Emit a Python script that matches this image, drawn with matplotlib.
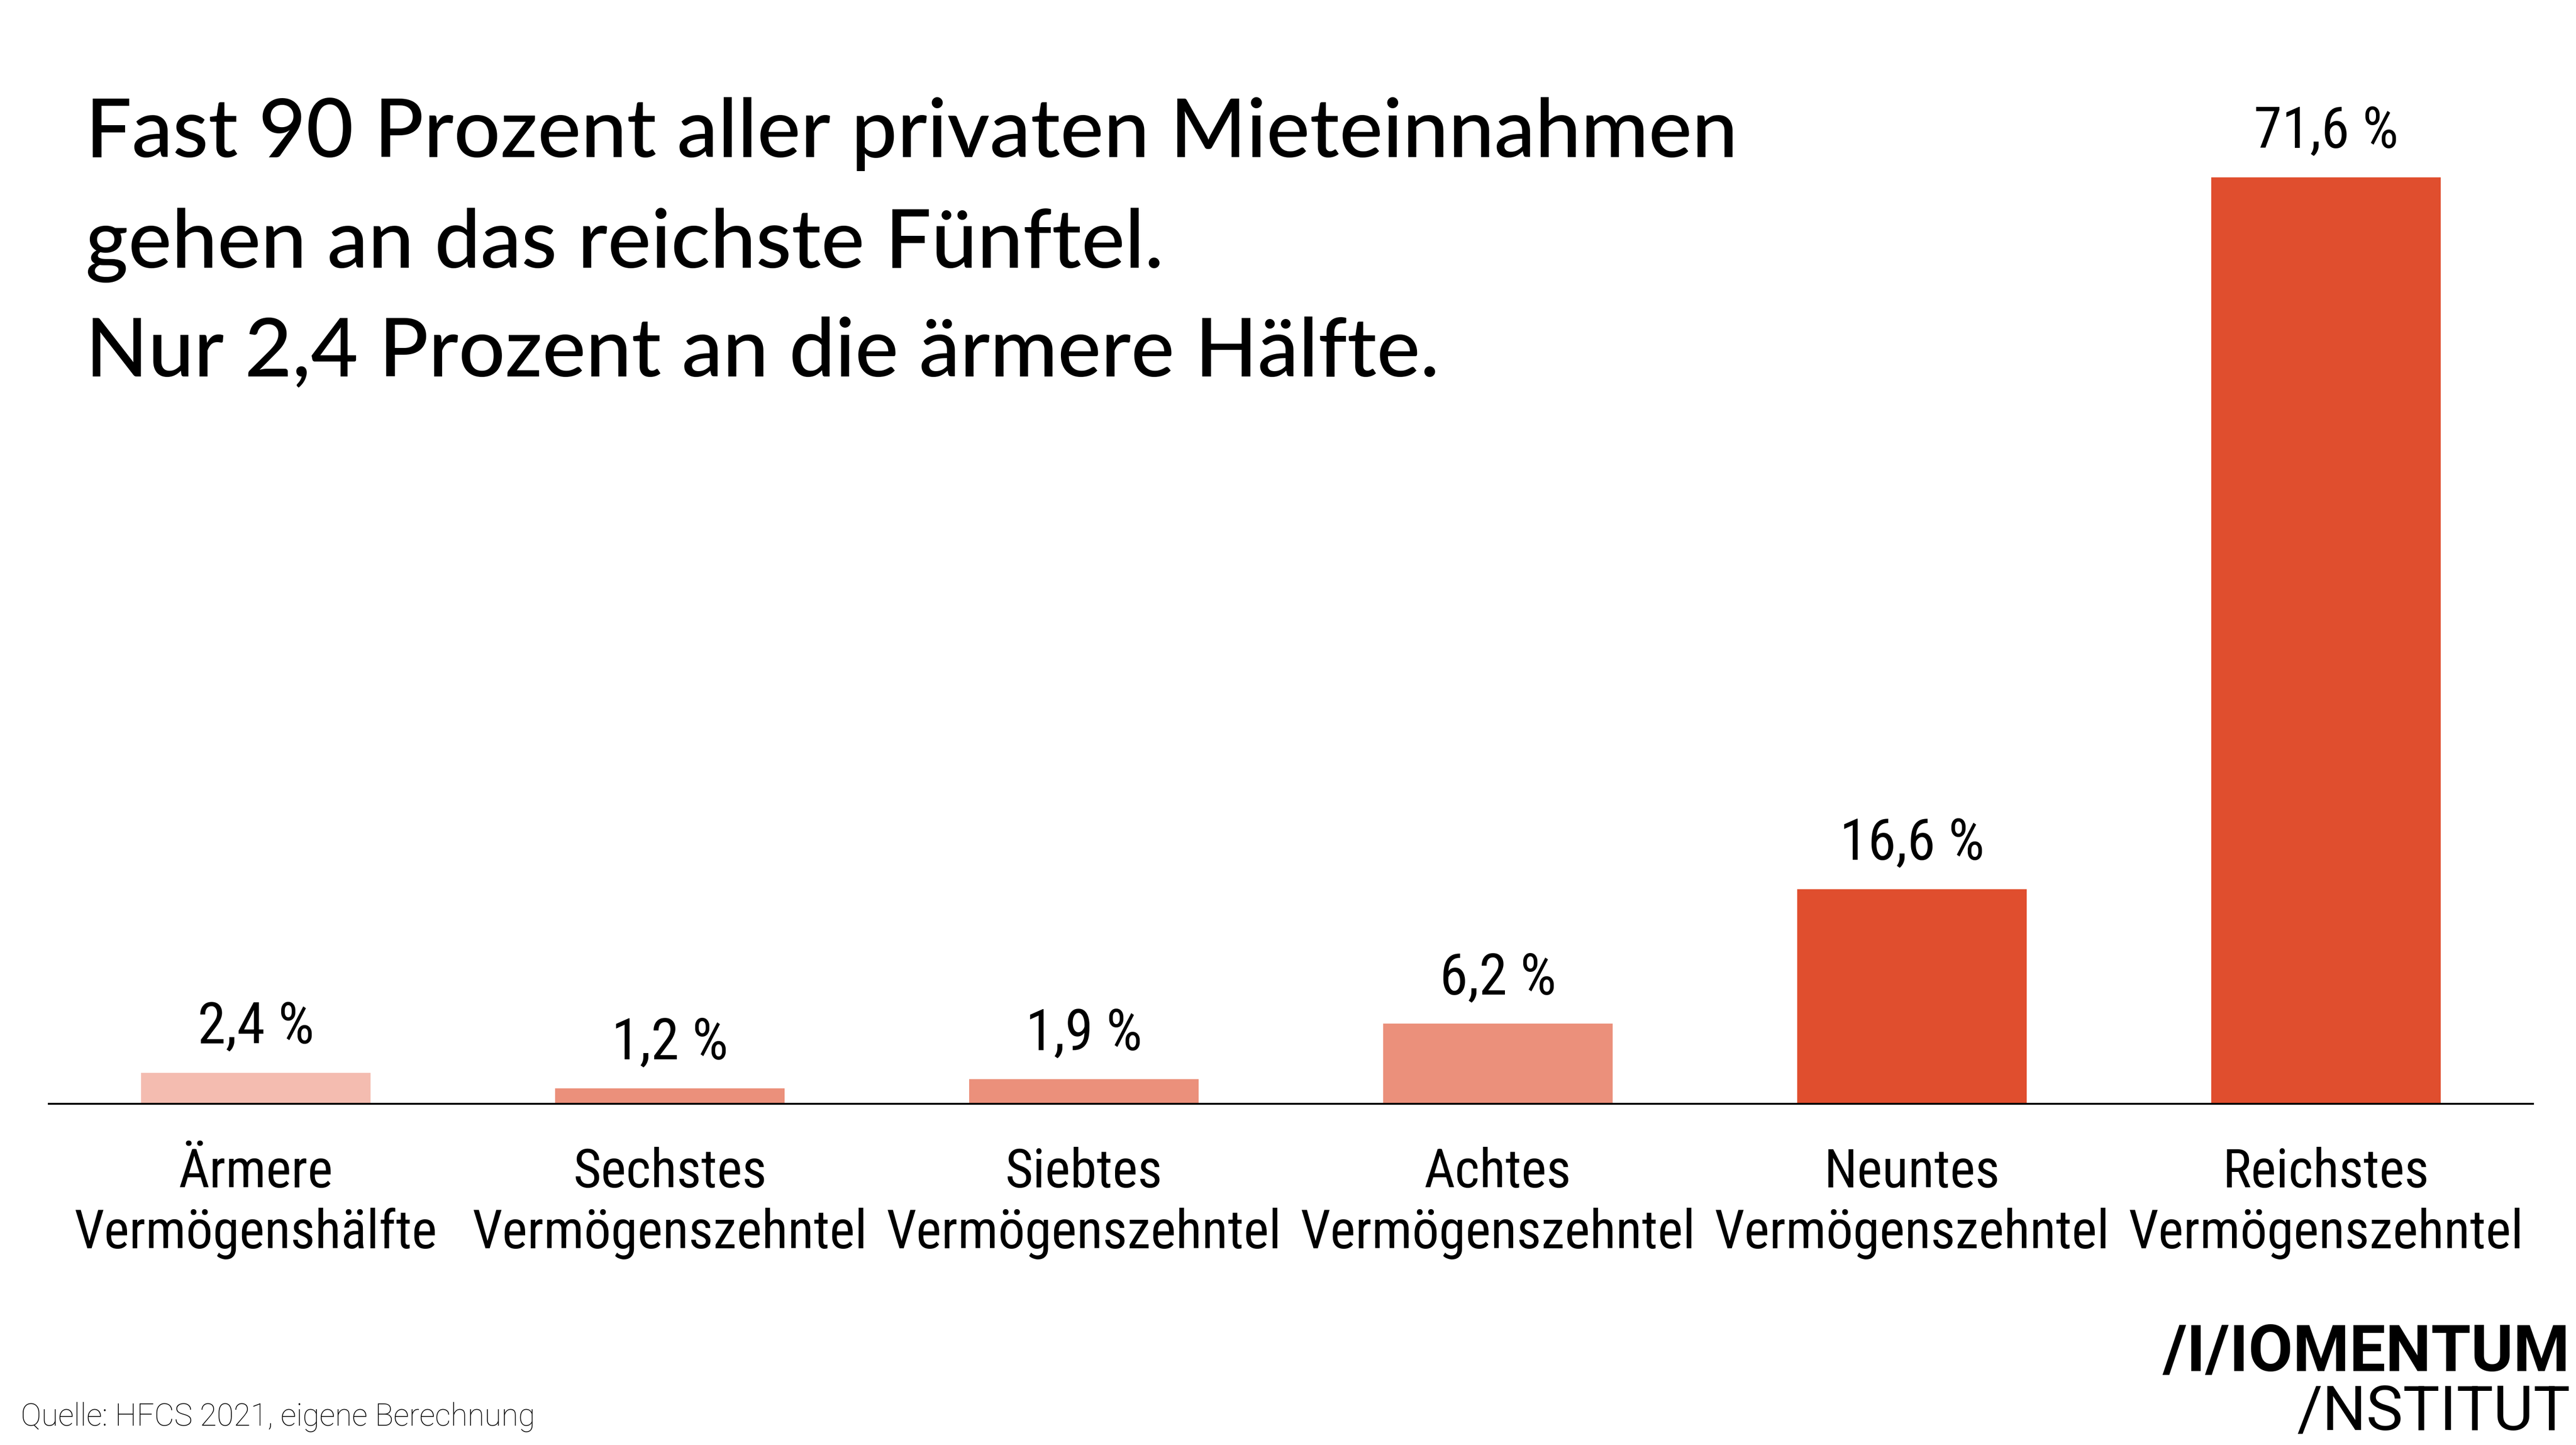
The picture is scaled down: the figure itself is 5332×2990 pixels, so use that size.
import matplotlib
matplotlib.use("Agg")
import matplotlib.pyplot as plt
from matplotlib import font_manager

names = {f.name for f in font_manager.fontManager.ttflist}
narrow = "Roboto"
label_size = 35
for cand in ["Roboto Condensed", "Liberation Sans Narrow", "Open Sans Condensed"]:
    if cand in names:
        narrow = cand
        label_size = 40
        break
main_font = "Lato"

categories_top = ["Ärmere", "Sechstes", "Siebtes", "Achtes", "Neuntes", "Reichstes"]
categories_bottom = ["Vermögenshälfte", "Vermögenszehntel", "Vermögenszehntel",
                     "Vermögenszehntel", "Vermögenszehntel", "Vermögenszehntel"]
shares = [2.4, 1.2, 1.9, 6.2, 16.6, 71.6]
bar_colors = ["#F4BCB0", "#EB907B", "#EB907B", "#EB907B", "#E04E2E", "#E04E2E"]

title_lines = ["Fast 90 Prozent aller privaten Mieteinnahmen",
               "gehen an das reichste Fünftel.",
               "Nur 2,4 Prozent an die ärmere Hälfte."]
source = "Quelle: HFCS 2021, eigene Berechnung"

fig = plt.figure(figsize=(26.66, 14.95), dpi=200)
ax = fig.add_axes([0.0189, 0.2361, 0.9644, 0.7639])

x = range(len(shares))
ax.bar(x, shares, width=0.554, color=bar_colors)
ax.set_xlim(-0.5, 5.5)
ax.set_ylim(0, 85.3)

for i, v in enumerate(shares):
    lab = f"{v:.1f}".replace(".", ",") + " %"
    ax.annotate(lab, (i, v), xytext=(0, 22), textcoords="offset points",
                ha="center", va="baseline", fontsize=42.5, family=narrow)

for s in ["top", "right", "left"]:
    ax.spines[s].set_visible(False)
ax.spines["bottom"].set_linewidth(1.4)
ax.set_xticks([])
ax.set_yticks([])

# category labels, two lines each
for i in x:
    xf = fig.transFigure.inverted().transform(ax.transData.transform((i, 0)))[0]
    fig.text(xf, 0.1782, categories_top[i], ha="center", va="baseline",
             fontsize=label_size, family=narrow)
    fig.text(xf, 0.1362, categories_bottom[i], ha="center", va="baseline",
             fontsize=label_size, family=narrow)

for t, yb in zip(title_lines, [0.8913, 0.8147, 0.7395]):
    fig.text(0.0332, yb, t, ha="left", va="baseline", fontsize=61,
             family=main_font, fontweight="medium")

fig.text(0.008, 0.0137, source, ha="left", va="baseline", fontsize=23,
         family="Roboto", fontweight="light")

fig.text(0.9978, 0.0512, "/I/IOMENTUM", ha="right", va="baseline", fontsize=48,
         family="Roboto", fontweight="bold")
fig.text(0.9978, 0.0104, "/NSTITUT", ha="right", va="baseline", fontsize=46,
         family="Roboto")

fig.savefig("out.png", dpi=200, facecolor="white")
